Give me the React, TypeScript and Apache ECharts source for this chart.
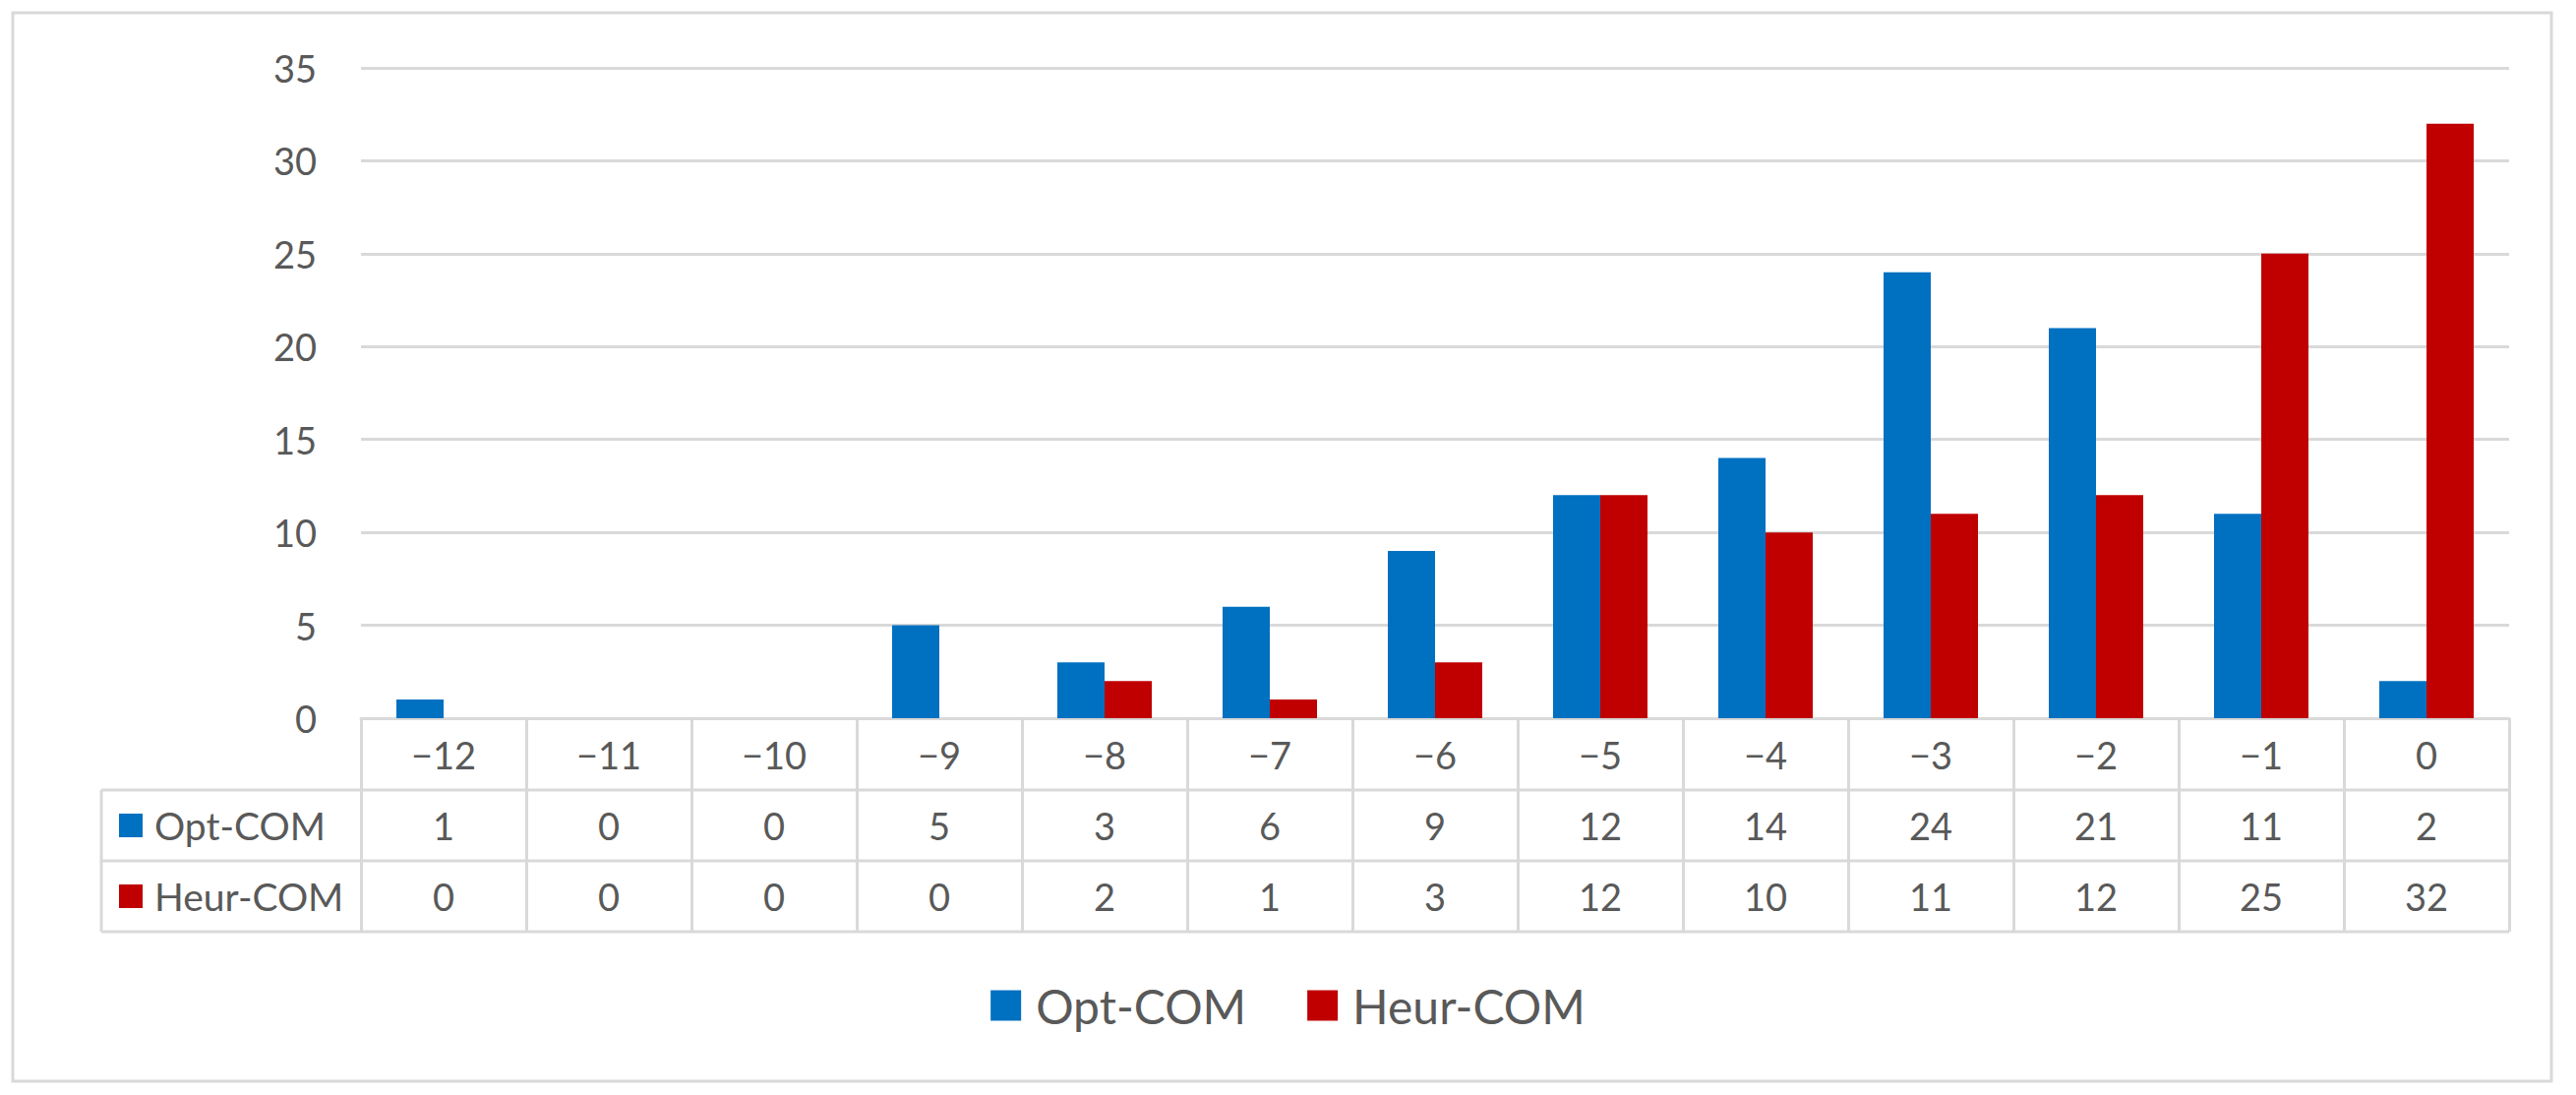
import React, { useEffect, useRef } from "react";
import * as echarts from "echarts";

const categories = ["−12", "−11", "−10", "−9", "−8", "−7", "−6", "−5", "−4", "−3", "−2", "−1", "0"];
const optCom = [1, 0, 0, 5, 3, 6, 9, 12, 14, 24, 21, 11, 2];
const heurCom = [0, 0, 0, 0, 2, 1, 3, 12, 10, 11, 12, 25, 32];
const seriesNames = ["Opt-COM", "Heur-COM"];
const seriesColors = ["#0070C0", "#C00000"];
const yMin = 0;
const yMax = 35;
const yStep = 5;

const W = 2619;
const H = 1113;
const FONT = "Lato, 'Liberation Sans', sans-serif";
const TEXT = "#595959";
const LINE = "#d9d9d9";

export default function App() {
  const ref = useRef<HTMLDivElement>(null);
  useEffect(() => {
    document.body.style.margin = "0";
    if (!ref.current) return;
    const chart = echarts.init(ref.current, undefined, { renderer: "svg" });

    const gridLeft = 367;
    const gridRight = 2551;
    const axisY = 730;
    const rowH = 72;
    const row1 = axisY + rowH + 1;
    const row2 = row1 + rowH;
    const row3 = row2 + rowH;
    const tableLeft = 103;

    const tableRows = [optCom, heurCom];
    const graphics: any[] = [
      {
        type: "rect",
        shape: { x: 13, y: 13, width: 2581, height: 1086 },
        style: { fill: "none", stroke: LINE, lineWidth: 3 },
        silent: true,
      },
      ...[row1, row2, row3].map((y) => ({
        type: "line",
        shape: { x1: tableLeft, y1: y, x2: gridRight, y2: y },
        style: { stroke: LINE, lineWidth: 3 },
        silent: true,
      })),
      {
        type: "line",
        shape: { x1: tableLeft, y1: row1, x2: tableLeft, y2: row3 },
        style: { stroke: LINE, lineWidth: 3 },
        silent: true,
      },
    ];
    tableRows.forEach((_, i) => {
      const cy = row1 + rowH * i + rowH / 2;
      graphics.push({
        type: "rect",
        shape: { x: 121, y: cy - 12, width: 24, height: 24 },
        style: { fill: seriesColors[i] },
        silent: true,
      });
      graphics.push({
        type: "text",
        x: 157,
        y: cy,
        style: {
          text: seriesNames[i],
          fontSize: 39,
          fontFamily: FONT,
          fill: TEXT,
          verticalAlign: "middle",
          align: "left",
        },
        silent: true,
      });
    });

    chart.setOption({
      animation: false,
      backgroundColor: "#ffffff",
      textStyle: { fontFamily: FONT },
      grid: {
        left: gridLeft,
        right: W - gridRight,
        top: 69,
        bottom: H - axisY,
        containLabel: false,
        outerBoundsMode: "none",
      },
      legend: {
        data: seriesNames,
        left: "center",
        top: 993,
        icon: "rect",
        itemWidth: 31,
        itemHeight: 31,
        itemGap: 62,
        textStyle: { fontSize: 48, color: TEXT, fontFamily: FONT, padding: [0, 0, 0, 10] },
      },
      xAxis: {
        type: "category",
        data: categories,
        boundaryGap: true,
        axisLine: { show: true, lineStyle: { color: LINE, width: 3 } },
        axisTick: {
          show: true,
          alignWithLabel: false,
          length: row3 - axisY,
          lineStyle: { color: LINE, width: 3 },
        },
        axisLabel: {
          interval: 0,
          margin: 1,
          color: TEXT,
          fontFamily: FONT,
          formatter: (value: string, index: number) =>
            `{h|${value}}\n{v|${optCom[index]}}\n{v|${heurCom[index]}}`,
          rich: {
            h: { fontSize: 38, lineHeight: rowH, color: TEXT, fontFamily: FONT },
            v: { fontSize: 38, lineHeight: rowH, color: TEXT, fontFamily: FONT },
          },
        },
        splitLine: { show: false },
      },
      yAxis: {
        type: "value",
        min: yMin,
        max: yMax,
        interval: yStep,
        axisLine: { show: false },
        axisTick: { show: false },
        axisLabel: { fontSize: 38, color: TEXT, margin: 45, fontFamily: FONT },
        splitLine: { show: true, lineStyle: { color: LINE, width: 3 } },
      },
      series: [
        {
          name: seriesNames[0],
          type: "bar",
          data: optCom,
          barWidth: 48,
          barGap: "0%",
          itemStyle: { color: seriesColors[0] },
        },
        {
          name: seriesNames[1],
          type: "bar",
          data: heurCom,
          barWidth: 48,
          barGap: "0%",
          itemStyle: { color: seriesColors[1] },
        },
      ],
      graphic: graphics,
    });

    return () => chart.dispose();
  }, []);

  return <div ref={ref} style={{ width: W, height: H }} />;
}
